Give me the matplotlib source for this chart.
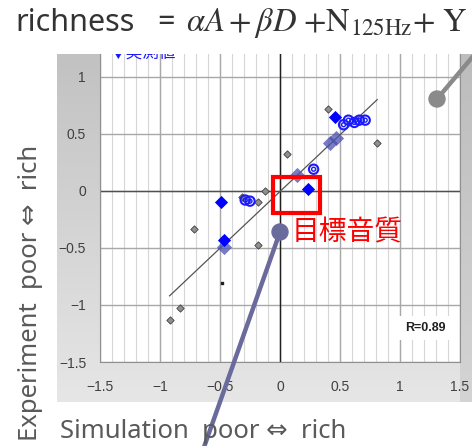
import matplotlib
matplotlib.use("Agg")
import matplotlib.pyplot as plt
from matplotlib.patches import Rectangle, Circle
from matplotlib.colors import LinearSegmentedColormap
import numpy as np

plt.rcParams['font.family'] = ['Noto Sans CJK JP', 'DejaVu Sans']
plt.rcParams['mathtext.fontset'] = 'stix'

# measured values (blue filled diamonds)
meas_x = [0.46, 0.23, -0.49, -0.47]
meas_y = [0.65, 0.02, -0.10, -0.43]
# shaded diamonds
shade_x = [-0.47, 0.47, 0.42, 0.14]
shade_y = [-0.49, 0.46, 0.42, 0.14]
# open blue circles
circ_x = [0.53, 0.57, 0.62, 0.66, 0.71, 0.28, -0.29, -0.25]
circ_y = [0.58, 0.62, 0.60, 0.62, 0.62, 0.19, -0.08, -0.09]
# small grey points
grey_x = [0.40, 0.81, 0.06, -0.125, -0.32, -0.18, -0.72, -0.18, -0.83, -0.92]
grey_y = [0.72, 0.42, 0.32, 0.00, -0.05, -0.10, -0.33, -0.47, -1.03, -1.13]
dot_x = [-0.48]
dot_y = [-0.81]
# regression line
fit_x = [-0.92, 0.81]
fit_y = [-0.92, 0.80]
# target quality box (x0, y0, x1, y1)
target_box = (-0.06, -0.19, 0.33, 0.12)
r_text = "R=0.89"

ticks = [-1.5, -1, -0.5, 0, 0.5, 1, 1.5]
tick_labels = ["\u22121.5", "\u22121", "\u22120.5", "0", "0.5", "1", "1.5"]
yticks = [-1.5, -1, -0.5, 0, 0.5, 1]
ytick_labels = ["\u22121.5", "\u22121", "\u22120.5", "0", "0.5", "1"]

# callouts in figure pixels (from top-left)
callout1 = [(437, 99), (480, 48)]
callout2 = [(280, 232), (203, 450)]

W, H = 472, 446
fig = plt.figure(figsize=(W / 100, H / 100), dpi=100)

# grey panel behind the plot, darker at the top
panel = LinearSegmentedColormap.from_list('panel', ['#c2c2c2', '#e6e6e6'])
strip = LinearSegmentedColormap.from_list('strip', ['#bdbdbd', '#d4d4d4'])
bg = fig.add_axes([57 / W, 1 - 402 / H, (W - 57) / W, (402 - 54) / H])
grad = np.linspace(0, 1, 100)[:, None] * np.ones((1, 10))
bg.imshow(grad, cmap=panel, aspect='auto', extent=[0, 1, 0, 1], origin='upper')
bg.imshow(grad, cmap=strip, aspect='auto', extent=[403 / 415, 1, 0, 1],
          origin='upper')
bg.set_xlim(0, 1)
bg.set_ylim(0, 1)
bg.axis('off')

ax = fig.add_axes([100 / W, 1 - 362 / H, 360 / W, (362 - 54) / H])
ax.set_facecolor('white')
ax.set_xlim(-1.5, 1.5)
ax.set_ylim(-1.5, 1.2)

for v in np.arange(-1.5, 1.51, 0.1):
    ax.axvline(v, color='#d6d6d6', lw=0.8, zorder=0)
for v in np.arange(-1.5, 1.51, 0.5):
    ax.axvline(v, color='#a8a8a8', lw=1.0, zorder=0)
for v in np.arange(-1.5, 1.21, 0.5):
    ax.axhline(v, color='#a8a8a8', lw=1.0, zorder=0)
ax.axvline(0, color='#202020', lw=1.0, zorder=1)
ax.axhline(0, color='#505050', lw=1.0, zorder=1)

for s in ax.spines.values():
    s.set_color('#909090')
ax.spines['top'].set_visible(False)

ax.set_xticks(ticks)
ax.set_xticklabels(tick_labels)
ax.set_yticks(yticks)
ax.set_yticklabels(ytick_labels)
ax.tick_params(length=0, labelsize=10, labelcolor='#404040')
ax.tick_params(axis='x', pad=13)
ax.tick_params(axis='y', pad=10)
for t in ax.get_xticklabels() + ax.get_yticklabels():
    t.set_family('Liberation Sans')

ax.plot(fit_x, fit_y, color='#555555', lw=0.9, zorder=2)
ax.scatter(grey_x, grey_y, marker='D', s=14, facecolor='#909090',
           edgecolor='#404040', lw=0.6, zorder=3)
ax.scatter(dot_x, dot_y, marker='s', s=4, color='#202020', zorder=3)
ax.scatter(shade_x, shade_y, marker='D', s=60, color='#4a50b0', alpha=0.75,
           lw=0, zorder=3)
ax.scatter(circ_x, circ_y, marker='o', s=45, facecolor='none',
           edgecolor='#1a1aff', lw=1.5, zorder=4)
ax.scatter(circ_x, circ_y, marker='o', s=8, facecolor='none',
           edgecolor='#1a1aff', lw=1.0, zorder=4)
ax.scatter(meas_x, meas_y, marker='D', s=45, color='#0000ff', lw=0, zorder=5)

x0, y0, x1, y1 = target_box
ax.add_patch(Rectangle((x0, y0), x1 - x0, y1 - y0, fill=False,
                       edgecolor='#ff0000', lw=3, zorder=6))
ax.text(0.10, -0.36, "目標音質", color='#ff0000', fontsize=20,
        ha='left', va='center', zorder=6)

ax.text(1.21, -1.2, r_text, fontsize=9, fontweight='bold', color='#202020',
        ha='center', va='center', family='Liberation Sans', zorder=6,
        bbox=dict(boxstyle='square,pad=0.5', fc='white', ec='none'))

ax.text(-1.42, 1.21, "▼実測値", color='#1a1aff', fontsize=12,
        ha='left', va='center', clip_on=True, zorder=6)

# overlay for callout lines
ov = fig.add_axes([0, 0, 1, 1])
ov.set_xlim(0, W)
ov.set_ylim(H, 0)
ov.axis('off')
(cx, cy), (ex, ey) = callout1
ov.plot([cx, ex], [cy, ey], color='#8a8a8a', lw=3.2, solid_capstyle='round')
ov.add_patch(Circle((cx, cy), 8, color='#8a8a8a'))
(cx, cy), (ex, ey) = callout2
ov.plot([cx, ex], [cy, ey], color='#6a6a9c', lw=3.2, solid_capstyle='round')
ov.add_patch(Circle((cx, cy), 8, color='#6a6a9c'))

fig.text(15 / W, 1 - 23 / H, "richness", fontsize=22, color='#333333',
         ha='left', va='center', family='Noto Sans')
fig.text(157 / W, 1 - 23 / H, "=", fontsize=22, color='#333333',
         ha='left', va='center', family='Noto Sans')
fig.text(186 / W, 1 - 23 / H,
         r"$\alpha A + \beta D\ {+}\mathrm{N}_{\mathrm{125Hz}}{+}\ \mathrm{Y}$",
         fontsize=23.5, color='#333333', ha='left', va='center')

fig.text(31 / W, 1 - 293 / H, "Experiment  poor \u21d4  rich", rotation=90,
         fontsize=18.5, color='#5a5a5a', ha='center', va='center',
         family=['Noto Sans', 'DejaVu Sans'])
fig.text(60 / W, 1 - 432 / H, "Simulation  poor \u21d4  rich",
         fontsize=18.5, color='#5a5a5a', ha='left', va='center',
         family=['Noto Sans', 'DejaVu Sans'])

fig.savefig("out.png", dpi=100)
